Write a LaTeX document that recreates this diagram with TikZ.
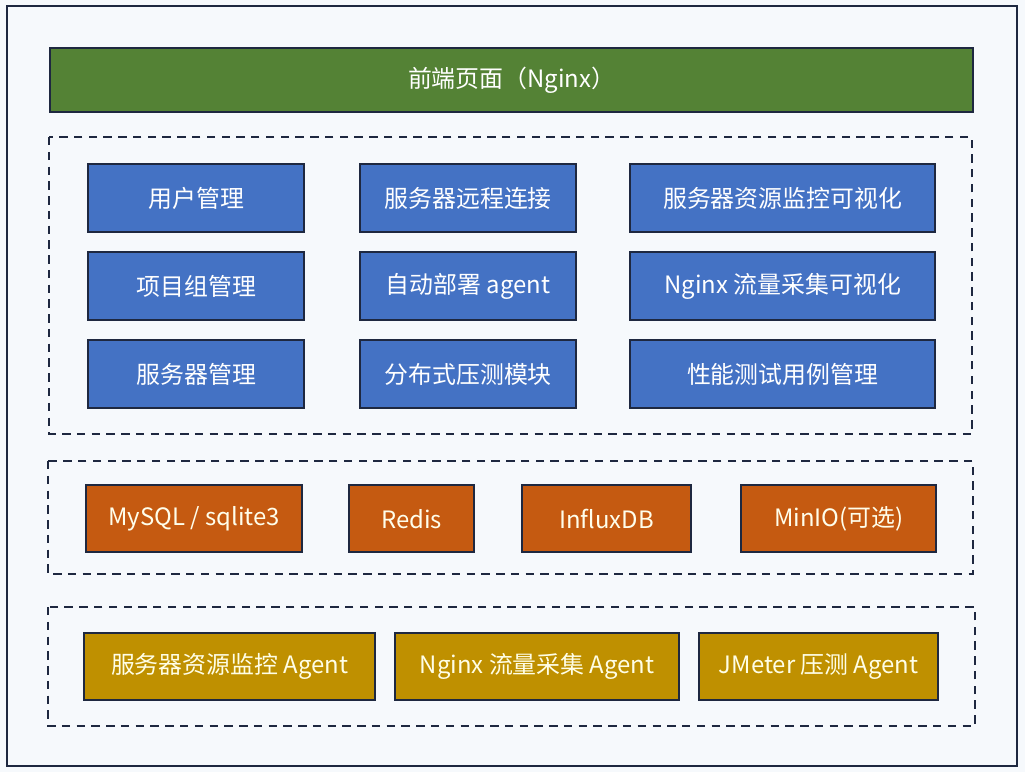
\documentclass[tikz,border=0pt]{standalone}
\usepackage{fontspec}
\setmainfont{Noto Sans CJK SC}
\usepackage{xcolor}

\definecolor{pagebg}{HTML}{F6F9FC}
\definecolor{edge}{HTML}{1E2840}
\definecolor{topgreen}{HTML}{548235}
\definecolor{modblue}{HTML}{4472C4}
\definecolor{storeorange}{HTML}{C55A11}
\definecolor{agentgold}{HTML}{BF9000}

\begin{document}
\begin{tikzpicture}[x=0.025cm, y=-0.025cm,
      box/.style={draw=edge, line width=1.6pt, text=white, font=\fontsize{17}{20}\selectfont,
        inner sep=0pt, anchor=north west},
      module/.style={box, fill=modblue},
      store/.style={box, fill=storeorange, text=white!92!yellow},
      agentbox/.style={box, fill=agentgold, text=white!90!yellow},
      group/.style={draw=edge, line width=1.7pt, dash pattern=on 6pt off 4.5pt}
    ]
    \useasboundingbox (0,0) rectangle (1025,772);
    \fill[pagebg] (0,0) rectangle (1025,772);
    \draw[edge, line width=1.4pt] (7,6) rectangle (1017,766);

    % Top bar
    \node[box, fill=topgreen, minimum width=923*0.025cm, minimum height=64*0.025cm] (front) at (49,47) {前端页面（Nginx）};

    % Modules
    \draw[group] (49,137) rectangle (972,434);
    \node[module, minimum width=5.4cm, minimum height=1.7cm] (user) at (87,163) {用户管理};
    \node[module, minimum width=5.4cm, minimum height=1.7cm] (remote) at (359,163) {服务器远程连接};
    \node[module, minimum width=7.625cm, minimum height=1.7cm] (monvis) at (629,163) {服务器资源监控可视化};
    \node[module, minimum width=5.4cm, minimum height=1.7cm] (group) at (87,251) {项目组管理};
    \node[module, minimum width=5.4cm, minimum height=1.7cm] (deploy) at (359,251) {自动部署 agent};
    \node[module, minimum width=7.625cm, minimum height=1.7cm] (ngxvis) at (629,251) {Nginx 流量采集可视化};
    \node[module, minimum width=5.4cm, minimum height=1.7cm] (server) at (87,339) {服务器管理};
    \node[module, minimum width=5.4cm, minimum height=1.7cm] (press) at (359,339) {分布式压测模块};
    \node[module, minimum width=7.625cm, minimum height=1.7cm] (cases) at (629,339) {性能测试用例管理};

    % Storage
    \draw[group] (48,461) rectangle (973,574);
    \node[store, minimum width=5.4cm, minimum height=1.675cm] (mysql) at (85,484) {MySQL / sqlite3};
    \node[store, minimum width=3.125cm, minimum height=1.675cm] (redis) at (348,484) {Redis};
    \node[store, minimum width=4.225cm, minimum height=1.675cm] (influx) at (521,484) {InfluxDB};
    \node[store, minimum width=4.875cm, minimum height=1.675cm] (minio) at (740,484) {MinIO(可选)};

    % Agents
    \draw[group] (48,607) rectangle (975,726);
    \node[agentbox, minimum width=7.275cm, minimum height=1.675cm] (monagent) at (83,632) {服务器资源监控 Agent};
    \node[agentbox, minimum width=7.1cm, minimum height=1.675cm] (ngxagent) at (394,632) {Nginx 流量采集 Agent};
    \node[agentbox, minimum width=5.975cm, minimum height=1.675cm] (jmeter) at (698,632) {JMeter 压测 Agent};
  \end{tikzpicture}
\end{document}
